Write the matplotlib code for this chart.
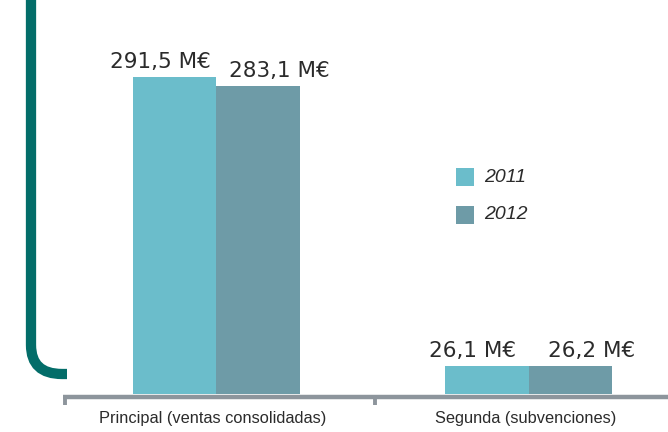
import matplotlib
matplotlib.use("Agg")
import matplotlib.pyplot as plt
import numpy as np
from matplotlib.path import Path
from matplotlib.patches import PathPatch, Rectangle

categories = ["Principal (ventas consolidadas)", "Segunda (subvenciones)"]
years = ["2011", "2012"]
values_2011 = [291.5, 26.1]
values_2012 = [283.1, 26.2]
labels_2011 = ["291,5 M€", "26,1 M€"]
labels_2012 = ["283,1 M€", "26,2 M€"]

c2011 = "#6bbdcb"
c2012 = "#6e9ba7"
txt = "#2b2b2b"

W, H = 668, 432
fig = plt.figure(figsize=(W / 100, H / 100), dpi=100)
ax = fig.add_axes([0, 0, 1, 1])
ax.set_axis_off()

# pixel mapping
px_per_unit_x = 313.0
x0_px = 216.0
base_px = 394.0
px_per_val = (394 - 77) / 291.5
ax.set_xlim(-x0_px / px_per_unit_x, (W - x0_px) / px_per_unit_x)
ax.set_ylim(-(H - base_px) / px_per_val, base_px / px_per_val)

x = np.arange(len(categories))
bw = 83.5 / px_per_unit_x
b1 = ax.bar(x - bw / 2, values_2011, bw, color=c2011, zorder=2)
b2 = ax.bar(x + bw / 2, values_2012, bw, color=c2012, zorder=2)

offs1 = [-14, -15]
offs2 = [22, 21]
for i in range(len(categories)):
    ax.annotate(labels_2011[i], (x[i] - bw / 2, values_2011[i]), xytext=(offs1[i] * 0.72, 9 * 0.72),
                textcoords="offset points", ha="center", va="baseline", fontsize=15.5, color=txt)
    ax.annotate(labels_2012[i], (x[i] + bw / 2, values_2012[i]), xytext=(offs2[i] * 0.72, 9 * 0.72),
                textcoords="offset points", ha="center", va="baseline", fontsize=15.5, color=txt)

def fx(px):
    return px / W
def fy(py):
    return 1 - py / H

axis_col = "#8d959c"
fig.add_artist(plt.Line2D([fx(63), fx(W)], [fy(397), fy(397)], color=axis_col, lw=3.2, solid_capstyle="butt"))
for tx in [65, 375]:
    fig.add_artist(plt.Line2D([fx(tx), fx(tx)], [fy(396), fy(405)], color=axis_col, lw=2.8, solid_capstyle="butt"))

# category labels
for i, cat in enumerate(categories):
    ax.text(x[i] - 3 / px_per_unit_x, -(418 - base_px) / px_per_val, cat, ha="center", va="center",
            fontsize=11.8, color=txt, family=["Liberation Sans", "DejaVu Sans"])

# bracket
verts = [(31, -5), (31, 345), (31, 374), (62, 374), (67, 374)]
codes = [Path.MOVETO, Path.LINETO, Path.CURVE3, Path.CURVE3, Path.LINETO]
path = Path([(fx(a), fy(b)) for a, b in verts], codes)
fig.add_artist(PathPatch(path, transform=fig.transFigure, fill=False, edgecolor="#036d69",
                         lw=7.4, capstyle="butt"))

# legend
for j, (yr, col, ypx) in enumerate([("2011", c2011, 177), ("2012", c2012, 215)]):
    fig.add_artist(Rectangle((fx(456), fy(ypx + 9)), 18 / W, 18 / H, transform=fig.transFigure,
                             facecolor=col, edgecolor="none"))
    fig.text(fx(484), fy(ypx), yr, ha="left", va="center", fontsize=14, style="italic", color=txt,
             family=["Liberation Sans", "DejaVu Sans"])

fig.savefig("out.png", dpi=100, facecolor="white")
